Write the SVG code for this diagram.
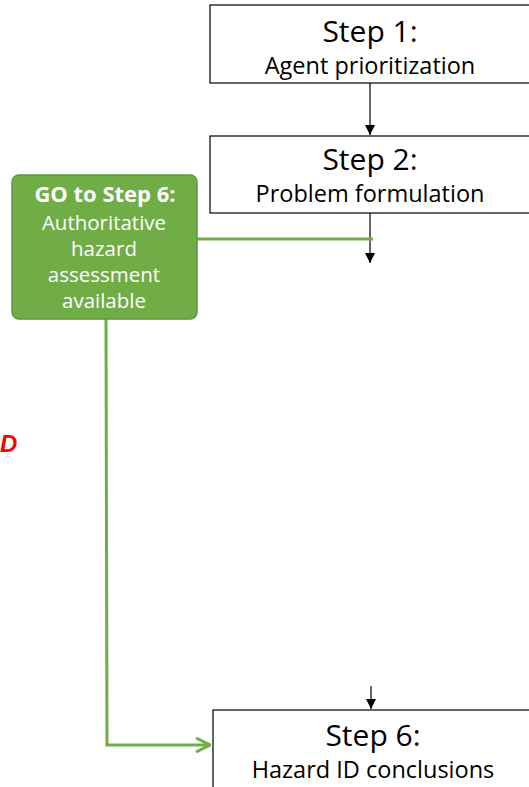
<svg xmlns="http://www.w3.org/2000/svg" width="529" height="787" viewBox="0 0 529 787">
<defs>
<style>
.box{fill:#fff;stroke:#000;stroke-width:1.2}
.t{font-family:"Open Sans","Noto Sans",sans-serif;fill:#000;text-anchor:middle}
.big{font-size:30px}
.sm{font-size:23.5px}
.g{font-family:"Open Sans","Noto Sans",sans-serif;fill:#fff;text-anchor:middle;font-size:20.5px}
.gt{font-size:22px;font-weight:bold}
.blk{stroke:#000;stroke-width:1.2;fill:none}
.grn{stroke:#70AD47;stroke-width:3;fill:none}
</style>
<marker id="ah" viewBox="0 0 10 10" refX="10" refY="5" markerWidth="10" markerHeight="10" markerUnits="userSpaceOnUse" orient="auto">
<path d="M0,0 L10,5 L0,10 Z" fill="#000"/>
</marker>
<marker id="ga" viewBox="0 0 16 16" refX="15" refY="8" markerWidth="16" markerHeight="16" markerUnits="userSpaceOnUse" orient="auto">
<path d="M1,1 L15,8 L1,15" fill="none" stroke="#70AD47" stroke-width="3"/>
</marker>
</defs>
<rect width="529" height="787" fill="#fff"/>
<g id="connectors">
<line class="blk" x1="370" y1="83" x2="370" y2="135" marker-end="url(#ah)"/>
<line class="blk" x1="370" y1="213" x2="370" y2="263" marker-end="url(#ah)"/>
<line class="blk" x1="371" y1="686" x2="371" y2="709" marker-end="url(#ah)"/>
<line class="grn" x1="197" y1="239" x2="373" y2="239"/>
<polyline class="grn" points="106,319 107,745 210,745" marker-end="url(#ga)"/>
</g>
<g id="step1">
<rect class="box" x="210" y="5" width="322" height="78"/>
<text class="t big" x="370" y="42">Step 1:</text>
<text class="t sm" x="370" y="74">Agent prioritization</text>
</g>
<g id="step2">
<rect class="box" x="210" y="136" width="322" height="77"/>
<text class="t big" x="370" y="170">Step 2:</text>
<text class="t sm" x="370" y="202">Problem formulation</text>
</g>
<g id="go6">
<rect x="12" y="175" width="185" height="144" rx="7" fill="#70AD47" stroke="#5E963B" stroke-width="1.5"/>
<text class="g gt" x="105" y="202">GO to Step 6:</text>
<text class="g" x="104" y="230">Authoritative</text>
<text class="g" x="104" y="256">hazard</text>
<text class="g" x="104" y="282">assessment</text>
<text class="g" x="104" y="308">available</text>
</g>
<g id="step6">
<rect class="box" x="213" y="710" width="322" height="85"/>
<text class="t big" x="373" y="746">Step 6:</text>
<text class="t sm" x="373" y="778">Hazard ID conclusions</text>
</g>
<text x="0" y="452" font-family="Liberation Sans,Arial,sans-serif" font-size="24" font-weight="bold" font-style="italic" fill="#FF0000">D</text>
</svg>
